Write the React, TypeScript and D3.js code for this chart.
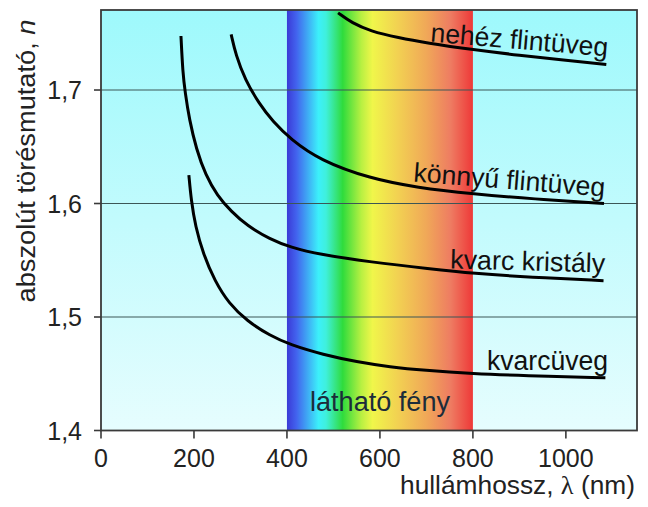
import React from "react";
import * as d3 from "d3";

// refractive index curves, [wavelength nm, n]
const nehezFlint: [number, number][] = [
  [510, 1.768], [540, 1.759], [579, 1.752], [640, 1.746], [700, 1.7415], [801, 1.7355], [901, 1.7305], [995, 1.7265], [1087, 1.7225],
];
const konnyuFlint: [number, number][] = [
  [280, 1.749], [290, 1.731], [310, 1.709], [340, 1.688], [370, 1.672], [407, 1.657], [471, 1.638], [579, 1.622],
  [680, 1.614], [801, 1.6085], [930, 1.604], [1082, 1.6],
];
const kvarcKristaly: [number, number][] = [
  [172, 1.7476], [176, 1.715], [181, 1.698], [190, 1.674], [205, 1.648], [225, 1.625], [250, 1.607],
  [280, 1.593], [314, 1.5805], [364, 1.5685], [407, 1.5615], [471, 1.555], [579, 1.5485], [708, 1.5425],
  [801, 1.5385], [923, 1.535], [1081, 1.532],
];
const kvarcuveg: [number, number][] = [
  [189, 1.6251], [194, 1.603], [203, 1.58], [220, 1.5555], [245, 1.5315], [275, 1.512], [314, 1.4965],
  [364, 1.4835], [407, 1.4755], [478, 1.4668], [550, 1.4605], [622, 1.456], [694, 1.453], [801, 1.45],
  [909, 1.4483], [1085, 1.4465],
];

const xTicks = [0, 200, 400, 600, 800, 1000];
const yTicks = [1.4, 1.5, 1.6, 1.7];
const visible = [400, 800];

const spectrumStops: [number, string][] = [
  [0, "#3a3ad6"], [0.05, "#4262ee"], [0.17, "#3cf0fa"], [0.21, "#3ff0dc"], [0.3, "#2fdc3c"],
  [0.4, "#b8f042"], [0.46, "#f0f64a"], [0.6, "#f2d052"], [0.75, "#f0a858"], [0.88, "#ee7c62"], [1, "#ee3838"],
];

const W = 648;
const H = 507;
const left = 101, right = 637, top = 10, bottom = 430.5;
const font = "'Liberation Sans', Arial, sans-serif";

export default function App() {
  const x = d3.scaleLinear().domain([0, 1153]).range([left, right]);
  const y = d3.scaleLinear().domain([1.4, 1.7705]).range([bottom, top]);
  const line = d3
    .line<[number, number]>()
    .x(d => x(d[0]))
    .y(d => y(d[1]))
    .curve(d3.curveBasis);
  const fmt = (v: number) => v.toFixed(1).replace(".", ",");

  const labels = [
    { t: "nehéz flintüveg", x: 430, y: 41.5, r: 4.8, len: 178 },
    { t: "könnyű flintüveg", x: 413, y: 181.5, r: 4.5, len: 192 },
    { t: "kvarc kristály", x: 450, y: 268.5, r: 1.5, len: 155 },
    { t: "kvarcüveg", x: 487, y: 370, r: 0, len: 121 },
  ];

  return (
    <svg width={W} height={H} style={{ position: "absolute", left: 0, top: 0 }} fontFamily={font}>
      <defs>
        <linearGradient id="bg" x1="0" y1="0" x2="0" y2="1">
          <stop offset="0" stopColor="#9ef9fc" />
          <stop offset="1" stopColor="#e6fdfe" />
        </linearGradient>
        <linearGradient id="spec" x1="0" y1="0" x2="1" y2="0">
          {spectrumStops.map(([o, c]) => (
            <stop key={o} offset={o} stopColor={c} />
          ))}
        </linearGradient>
      </defs>
      <rect width={W} height={H} fill="#fff" />
      <rect x={left} y={top} width={right - left} height={bottom - top} fill="url(#bg)" />
      <rect
        x={x(visible[0])}
        y={top}
        width={x(visible[1]) - x(visible[0])}
        height={bottom - top}
        fill="url(#spec)"
      />
      {yTicks.slice(1).map(t => (
        <line key={t} x1={left} x2={right} y1={y(t)} y2={y(t)} stroke="#3c5656" strokeWidth={1.2} />
      ))}
      <text x={310} y={411} fontSize={27} fill="#1c2c3a" textLength={140} lengthAdjust="spacingAndGlyphs">
        látható fény
      </text>
      {[nehezFlint, konnyuFlint, kvarcKristaly, kvarcuveg].map((s, i) => (
        <path key={i} d={line(s) || ""} fill="none" stroke="#000" strokeWidth={3} />
      ))}
      {labels.map(l => (
        <text
          key={l.t}
          transform={`translate(${l.x},${l.y}) rotate(${l.r})`}
          fontSize={27}
          fill="#111"
          textLength={l.len}
          lengthAdjust="spacingAndGlyphs"
        >
          {l.t}
        </text>
      ))}
      <rect x={left} y={top} width={right - left} height={bottom - top} fill="none" stroke="#3a3a3a" strokeWidth={1.8} />
      {xTicks.map(t => (
        <g key={t}>
          <line x1={x(t)} x2={x(t)} y1={bottom} y2={bottom + 8} stroke="#3a3a3a" strokeWidth={1.6} />
          <text x={x(t)} y={467} fontSize={25} textAnchor="middle" fill="#222">
            {t}
          </text>
        </g>
      ))}
      {yTicks.map(t => (
        <g key={t}>
          <line x1={left - 7} x2={left} y1={y(t)} y2={y(t)} stroke="#3a3a3a" strokeWidth={1.6} />
          <text x={82} y={y(t) + 9} fontSize={25} textAnchor="end" fill="#222">
            {fmt(t)}
          </text>
        </g>
      ))}
      <text x={400} y={494} fontSize={26} fill="#222" textLength={235} lengthAdjust="spacingAndGlyphs">
        hullámhossz, <tspan fontFamily="'Liberation Serif', serif">λ</tspan> (nm)
      </text>
      <text
        transform="translate(35,161) rotate(-90)"
        fontSize={26}
        textAnchor="middle"
        fill="#222"
        textLength={283}
        lengthAdjust="spacingAndGlyphs"
      >
        abszolút törésmutató, <tspan fontStyle="italic">n</tspan>
      </text>
    </svg>
  );
}
